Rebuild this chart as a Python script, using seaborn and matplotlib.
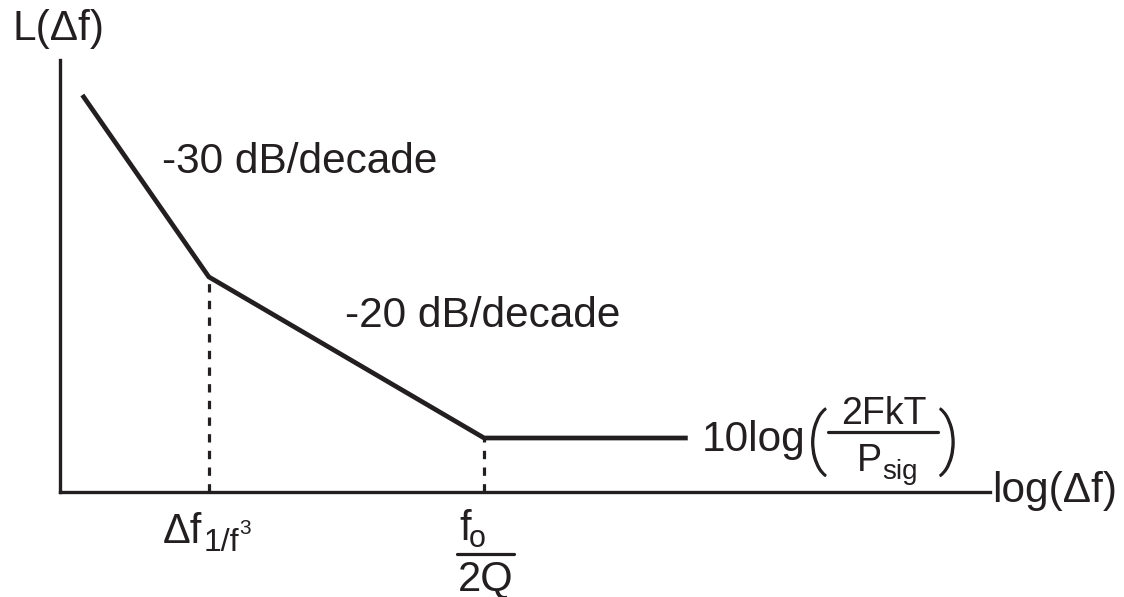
import matplotlib
matplotlib.use("Agg")
import matplotlib.pyplot as plt
import matplotlib.patheffects as pe
import seaborn as sns
import pandas as pd

# ---- data (x in decades of offset frequency, y in relative dB) ----
curve_x = [0.24, 1.60, 4.56, 6.75]
curve_y = [91.9, 49.8, 12.5, 12.5]
slope_labels = ["-30 dB/decade", "-20 dB/decade"]
axis_labels = ["L(Δf)", "log(Δf)"]
xlim = (0, 10)
ylim = (0, 100)

W, H = 1124, 597
INK = "#231f20"
sns.set_theme(style="white")
plt.rcParams["font.family"] = ["Liberation Sans", "DejaVu Sans"]
plt.rcParams["lines.scale_dashes"] = False

fig = plt.figure(figsize=(W / 100, H / 100), dpi=100)
L, R, T, B = 60, 990, 60, 492
ax = fig.add_axes([L / W, 1 - B / H, (R - L) / W, (B - T) / H])
ax.set_xlim(*xlim)
ax.set_ylim(*ylim)

df = pd.DataFrame({"x": curve_x, "y": curve_y})
sns.lineplot(data=df, x="x", y="y", sort=False, color=INK, lw=3.4,
             ax=ax, solid_capstyle="butt", solid_joinstyle="miter")

# dashed drops at the two corner frequencies
for cx, cy in zip(curve_x[1:3], curve_y[1:3]):
    ax.plot([cx, cx], [0, cy], color=INK, lw=2.3,
            linestyle=(0, (6, 6)), dash_capstyle="butt")

for s in ["top", "right"]:
    ax.spines[s].set_visible(False)
for s in ["left", "bottom"]:
    ax.spines[s].set_color(INK)
    ax.spines[s].set_linewidth(2.4)
ax.set_xticks([])
ax.set_yticks([])
ax.set_xlabel("")
ax.set_ylabel("")

renderer = fig.canvas.get_renderer()


def t(x, y, s, size=30, ha="left", va="baseline", **kw):
    return fig.text(x / W, 1 - y / H, s, fontsize=size, ha=ha, va=va,
                    color=INK, **kw)


def seq(x, y, parts):
    """parts: (text, size, baseline_dy, gap_before)"""
    for s, size, dy, gap in parts:
        x += gap
        txt = t(x, y + dy, s, size=size)
        bb = txt.get_window_extent(renderer)
        x += bb.width
    return x


def hline(x0, x1, y, lw=2.0):
    fig.add_artist(plt.Line2D([x0 / W, x1 / W], [1 - y / H, 1 - y / H],
                              color=INK, lw=lw, transform=fig.transFigure))


# axis labels
t(13, 40, axis_labels[0], size=30.5)
t(992, 502, axis_labels[1], size=30.5)

# slope labels
t(162, 173, slope_labels[0], size=30.5)
t(345, 327, slope_labels[1], size=30.5)

# noise floor label
paren_font = ["Roboto", "Liberation Sans"]
paren_fx = [pe.withStroke(linewidth=1.1, foreground=INK)]
t(807, 461, "(", size=48, family=paren_font, fontweight="light",
  path_effects=paren_fx)
t(702, 451, "10log", size=30.5)
t(884, 424, "2FkT", size=27, ha="center")
hline(828, 938, 432, lw=2.3)
seq(857, 471, [("P", 27, 0, 0), ("sig", 20, 8, 0)])
t(939, 461, ")", size=48, family=paren_font, fontweight="light",
  path_effects=paren_fx)

# corner frequency labels
seq(163, 543, [("Δf", 30, 0, 0), ("1/f", 23, 8, 1), ("3", 15, -9, 0)])

seq(459, 540, [("f", 30, 0, 0), ("o", 22, 7, -2)])
hline(457, 514, 554, lw=2.3)
t(486, 590, "2Q", size=30, ha="center")

fig.savefig("out.png", dpi=100, facecolor="white")
